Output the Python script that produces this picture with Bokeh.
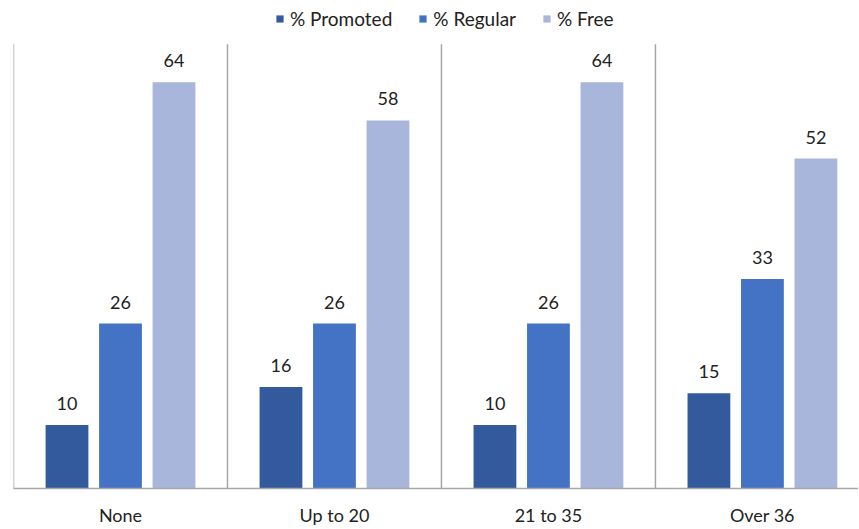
import numpy as np
from bokeh.plotting import figure
from bokeh.models import ColumnDataSource, Range1d, FixedTicker, Legend, LegendItem
from bokeh.transform import dodge
from bokeh.core.properties import value
from bokeh.embed import file_html
from bokeh.resources import INLINE

categories = ["None", "Up to 20", "21 to 35", "Over 36"]
promoted = [10, 16, 10, 15]
regular = [26, 26, 26, 33]
free = [64, 58, 64, 52]
series_names = ["% Promoted", "% Regular", "% Free"]
series_keys = ["promoted", "regular", "free"]
colors = ["#345A9E", "#4472C4", "#A8B6DB"]
y_max = 70

FONT = "Lato"

pos = np.arange(len(categories)) + 0.5
data = dict(x=pos, promoted=promoted, regular=regular, free=free)
for k in series_keys:
    data[k + "_lbl"] = [str(v) for v in data[k]]
src = ColumnDataSource(data)

p = figure(width=858, height=528, x_range=Range1d(0, 3.949), y_range=Range1d(0, 76.9),
           output_backend="svg", toolbar_location=None,
           min_border_left=13, min_border_right=0, min_border_top=0, min_border_bottom=0)
p.outline_line_color = None
p.grid.visible = False
p.yaxis.visible = False
p.background_fill_color = "white"

# category separators
bounds = np.arange(len(categories))
p.segment(x0=bounds, y0=0, x1=bounds, y1=y_max, line_color="#a6a6a6", line_width=1.5)

offsets = [-0.25, 0.0, 0.25]
items = []
for key, name, col, off in zip(series_keys, series_names, colors, offsets):
    r = p.vbar(x=dodge("x", off, range=p.x_range), top=key, width=0.2, source=src,
               fill_color=col, line_color=None)
    p.text(x=dodge("x", off, range=p.x_range), y=key, text=key + "_lbl", source=src,
           text_align="center", text_baseline="bottom", y_offset=-15,
           text_font=value(FONT), text_font_size="18px", text_color="#222222")
    items.append(LegendItem(label=name, renderers=[r]))

legend = Legend(items=items, orientation="horizontal", location=(262, 458),
                padding=0, margin=0, spacing=26, glyph_width=9, glyph_height=9,
                label_standoff=6, label_text_font=FONT, label_text_font_size="19px",
                label_text_color="#222222", border_line_color=None,
                background_fill_alpha=0)
p.add_layout(legend)

xa = p.xaxis[0]
xa.ticker = FixedTicker(ticks=list(pos))
xa.major_label_overrides = {float(x): c for x, c in zip(pos, categories)}
xa.major_tick_line_color = None
xa.minor_tick_line_color = None
xa.axis_line_color = "#a6a6a6"
xa.axis_line_width = 1.5
xa.major_label_standoff = 9
xa.major_label_text_font = FONT
xa.major_label_text_font_size = "18px"
xa.major_label_text_color = "#222222"

open("out.html", "w").write(file_html(p, INLINE))
